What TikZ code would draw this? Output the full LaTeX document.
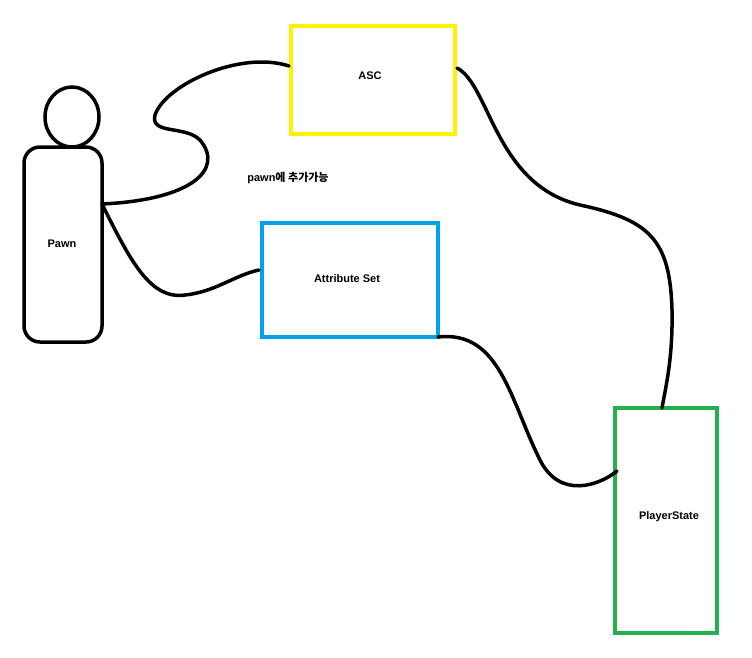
\documentclass[tikz,border=0pt]{standalone}
\usepackage{fontspec}
\setmainfont{Liberation Sans}
\newfontfamily\kr{Noto Sans CJK KR}
\definecolor{ylw}{RGB}{255,242,0}
\definecolor{blu}{RGB}{0,162,232}
\definecolor{grn}{RGB}{34,177,76}
\begin{document}
\begin{tikzpicture}[x=1pt,y=-1pt,
  ln/.style={line width=3.5pt,line cap=round},
  lbl/.style={font=\bfseries\fontsize{11}{13}\selectfont}]
\useasboundingbox (0,0) rectangle (752,657);
\fill[white] (0,0) rectangle (752,657);
\draw[ln] (72,117) ellipse (27 and 30);
\draw[ln,rounded corners=16pt] (24,147) rectangle (102,342);
\node[lbl] (pawn) at (62,244) {Pawn};
\coordinate (pr) at (102,204);
\draw[ln,ylw] (291,26) rectangle (455,134);
\node[lbl] (asc) at (370,76) {ASC};
\draw[ln,blu] (262,223) rectangle (438,337);
\node[lbl] (attr) at (347,279) {Attribute Set};
\draw[ln,grn] (615,408) rectangle (717,633);
\node[lbl] (ps) at (669,517) {PlayerState};
\node[lbl] (note) at (288,178) {pawn\kr 에 추가가능};
\coordinate (ascL) at (289,66);
\coordinate (ascR) at (457,68);
\coordinate (atL) at (259,270);
\coordinate (atR) at (438,337);
\coordinate (psT) at (662,408);
\coordinate (psL) at (617,471);
\draw[ln] (pr) .. controls (190,200) and (225,170) .. (200,140)
  .. controls (185,125) and (150,135) .. (155,115)
  .. controls (165,85) and (240,50) .. (ascL);
\draw[ln] (pr) .. controls (130,260) and (150,300) .. (185,295)
  .. controls (215,292) and (235,275) .. (atL);
\draw[ln] (ascR) .. controls (490,85) and (495,185) .. (580,205)
  .. controls (650,220) and (670,240) .. (672,310)
  .. controls (673,360) and (665,390) .. (psT);
\draw[ln] (atR) .. controls (500,330) and (510,400) .. (540,460)
  .. controls (560,500) and (600,485) .. (psL);
\end{tikzpicture}
\end{document}
